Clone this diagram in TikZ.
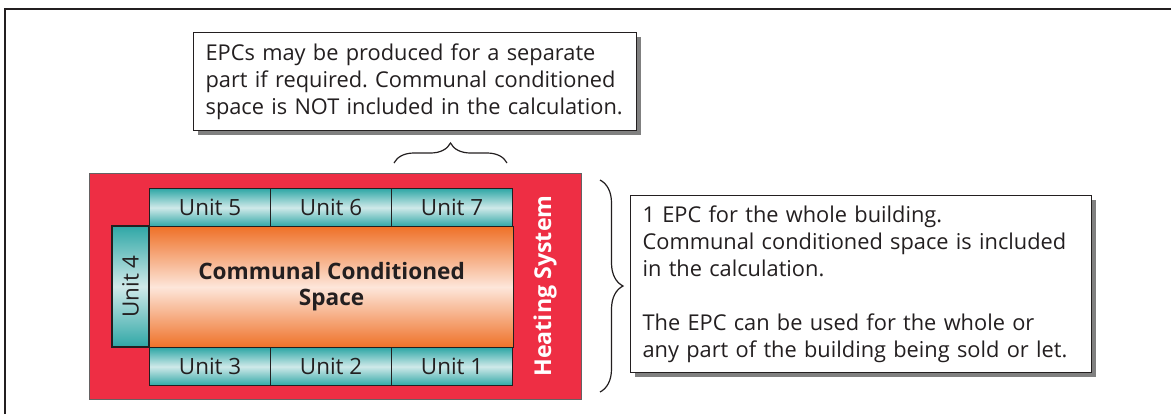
\documentclass[tikz,border=0pt]{standalone}
\usepackage{fontspec}
\setmainfont{Open Sans}
\usetikzlibrary{positioning,shadows,decorations.pathreplacing}
\definecolor{heatred}{HTML}{EE2E44}
\definecolor{unitteal}{HTML}{2FA7A6}
\definecolor{unitpale}{HTML}{CFE9E9}
\definecolor{spaceorange}{HTML}{EF7128}
\definecolor{spacepale}{HTML}{FDE6DA}
\definecolor{inkgray}{HTML}{231F20}
\newcommand{\px}{0.5pt}
\frenchspacing

\begin{document}
\begin{tikzpicture}[x=\px, y=-\px,
    unit/.style={draw=inkgray, line width=0.6pt, anchor=north west, minimum width=121*\px, minimum height=38*\px, inner sep=0pt,
        top color=unitteal, bottom color=unitteal, middle color=unitpale, text=inkgray, font=\fontsize{11.2}{13}\selectfont},
    note/.style={draw=inkgray, line width=0.6pt, fill=white, anchor=north west, align=left, inner xsep=12*\px,
        drop shadow={shadow xshift=2pt, shadow yshift=-2pt, fill=black!50, opacity=1},
        text=inkgray, font=\fontsize{10.9}{13.5}\selectfont},
    curly/.style={decorate, draw=inkgray, line width=0.6pt}]
    \useasboundingbox (0,0) rectangle (1171,414);
    \draw[inkgray, line width=1.5*\px] (5,414) -- (5,9) -- (1171,9);

    % Heating system
    \node[draw=inkgray!70, line width=0.6pt, fill=heatred, anchor=north west, minimum width=492*\px, minimum height=226*\px, inner sep=0pt] (heating) at (89,173) {};
    \node[rotate=90, text=white, font=\fontsize{11.6}{13}\selectfont\bfseries] (heating-label) at (545,286) {Heating System};

    % Communal space
    \node[draw=inkgray, line width=0.6pt, anchor=north west, minimum width=364*\px, minimum height=121*\px, inner sep=0pt, align=center,
        top color=spaceorange, bottom color=spaceorange, middle color=spacepale, text=inkgray, font=\fontsize{11.3}{13}\selectfont\bfseries] (space) at (149,226) {Communal Conditioned\\Space};

    % Top row
    \node[unit] (unit-5) at (149,188) {Unit 5};
    \node[unit] (unit-6) at (270,188) {Unit 6};
    \node[unit] (unit-7) at (391,188) {Unit 7};

    % Bottom row
    \node[unit] (unit-3) at (149,347) {Unit 3};
    \node[unit] (unit-2) at (270,347) {Unit 2};
    \node[unit] (unit-1) at (391,347) {Unit 1};

    % Side unit
    \node[unit, anchor=center, rotate=90, minimum height=37*\px] (unit-4) at (130.5,286.5) {Unit 4};

    % Notes
    \node[note, text width=419*\px, minimum height=98*\px] (note-part) at (193,32) {EPCs may be produced for a separate\\part if required. Communal conditioned\\space is NOT included in the calculation.};
    \node[note, text width=437*\px, minimum height=177*\px] (note-whole) at (630,195) {1 EPC for the whole building.\\Communal conditioned space is included\\in the calculation.\\[13.5pt]The EPC can be used for the whole or\\any part of the building being sold or let.};

    % Braces
    \coordinate (brace-a) at (394,163);
    \coordinate (brace-b) at (507,163);
    \coordinate (brace-c) at (600,180);
    \coordinate (brace-d) at (600,392);
    \draw[curly, decoration={brace, amplitude=10pt}] (brace-a) -- (brace-b);
    \draw[curly, decoration={brace, amplitude=11.5pt}] (brace-c) -- (brace-d);

\end{tikzpicture}
\end{document}
